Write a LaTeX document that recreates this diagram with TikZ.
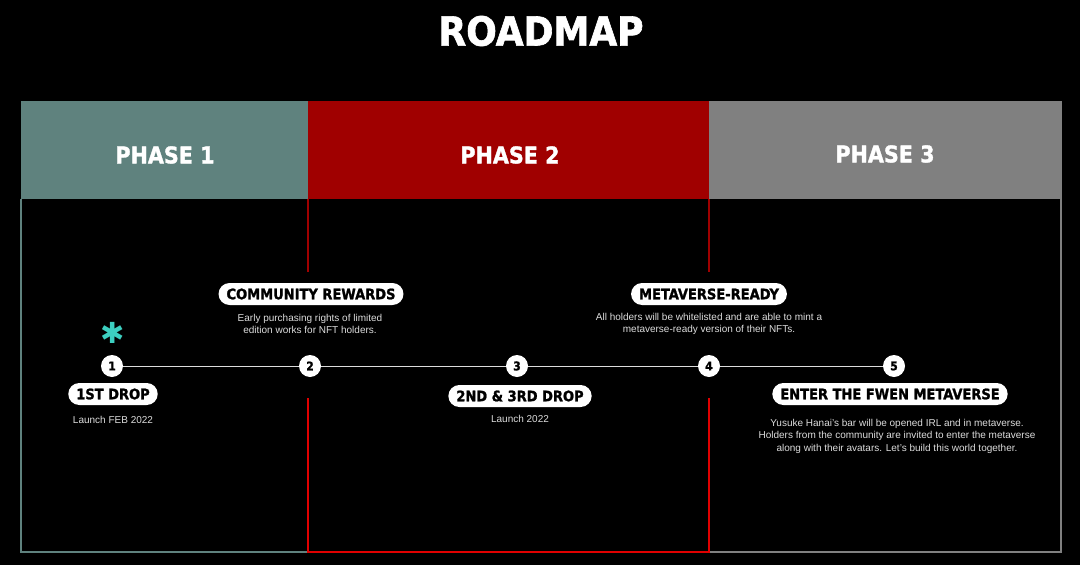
\documentclass[tikz,border=0pt]{standalone}
\usepackage{fontspec}
\setmainfont{Liberation Sans}
\newfontfamily\heavy{DejaVu Sans Condensed}[BoldFeatures={FakeBold=1.5}]
\newfontfamily\symb{DejaVu Sans}
\definecolor{pone}{HTML}{5F827E}
\definecolor{ptwo}{HTML}{A00000}
\definecolor{pthree}{HTML}{808080}
\definecolor{bright}{HTML}{E00000}
\definecolor{teal}{HTML}{3CCFC0}
\definecolor{body}{HTML}{DCDCDC}
\tikzset{
  pill/.style={fill=white, rounded corners=11pt, minimum height=22pt, inner xsep=8pt, inner ysep=0pt, font=\heavy\bfseries\fontsize{14.5}{14.5}\selectfont, text=black},
  num/.style={circle, fill=white, minimum size=22pt, inner sep=0pt, font=\heavy\bfseries\fontsize{12}{12}\selectfont, text=black},
  desc/.style={text=body, align=center, font=\fontsize{10}{12.5}\selectfont, inner sep=0pt},
  head/.style={text=white, font=\heavy\bfseries\fontsize{23}{23}\selectfont},
  frame/.style={line width=1.5pt}
}
\begin{document}
\begin{tikzpicture}[x=1pt,y=-1pt]
\fill[black] (0,0) rectangle (1080,565);
\useasboundingbox (0,0) rectangle (1080,565);
% title
\node[text=white, font=\heavy\bfseries\fontsize{40}{40}\selectfont] (title) at (541,31) {ROADMAP};
% headers
\fill[pone] (21,101) rectangle (308,199);
\fill[ptwo] (308,101) rectangle (709,199);
\fill[pthree] (709,101) rectangle (1061,199);
\node[head] (h1) at (165,155) {PHASE 1};
\node[head] (h2) at (510,155) {PHASE 2};
\node[head] (h3) at (885,154) {PHASE 3};
% frames
\draw[frame, pone] (21,199) -- (21,552) -- (308,552);
\draw[frame, pthree] (709,552) -- (1061,552) -- (1061,101);
\draw[frame, ptwo] (308,199) -- (308,272);
\draw[frame, ptwo] (709,199) -- (709,272);
\draw[frame, bright] (308,398) -- (308,552) -- (709,552) -- (709,398);
% timeline
\node[num] (n1) at (112,366) {1};
\node[num] (n2) at (310,366) {2};
\node[num] (n3) at (517,366) {3};
\node[num] (n4) at (709,366) {4};
\node[num] (n5) at (894,366) {5};
\draw[body, line width=1pt] (n1) -- (n2);
\draw[body, line width=1pt] (n2) -- (n3);
\draw[body, line width=1pt] (n3) -- (n4);
\draw[body, line width=1pt] (n4) -- (n5);
\node[text=teal, font=\symb\fontsize{29}{29}\selectfont, inner sep=0pt] (star) at (113,333) {✱};
% labels
\node[pill] (l1) at (113,394) {1ST DROP};
\node[pill] (l2) at (311,294) {COMMUNITY REWARDS};
\node[pill] (l3) at (520,396) {2ND \& 3RD DROP};
\node[pill] (l4) at (709,294) {METAVERSE-READY};
\node[pill] (l5) at (890,394) {ENTER THE FWEN METAVERSE};
% descriptions
\node[desc] (d1) at (113,420) {Launch FEB 2022};
\node[desc] (d2) at (310,324) {Early purchasing rights of limited\\edition works for NFT holders.};
\node[desc] (d3) at (520,419) {Launch 2022};
\node[desc] (d4) at (709,324) {All holders will be whitelisted and are able to mint a\\metaverse-ready version of their NFTs.};
\node[desc] (d5) at (897,436) {Yusuke Hanai’s bar will be opened IRL and in metaverse.\\Holders from the community are invited to enter the metaverse\\along with their avatars. Let’s build this world together.};
\end{tikzpicture}
\end{document}
